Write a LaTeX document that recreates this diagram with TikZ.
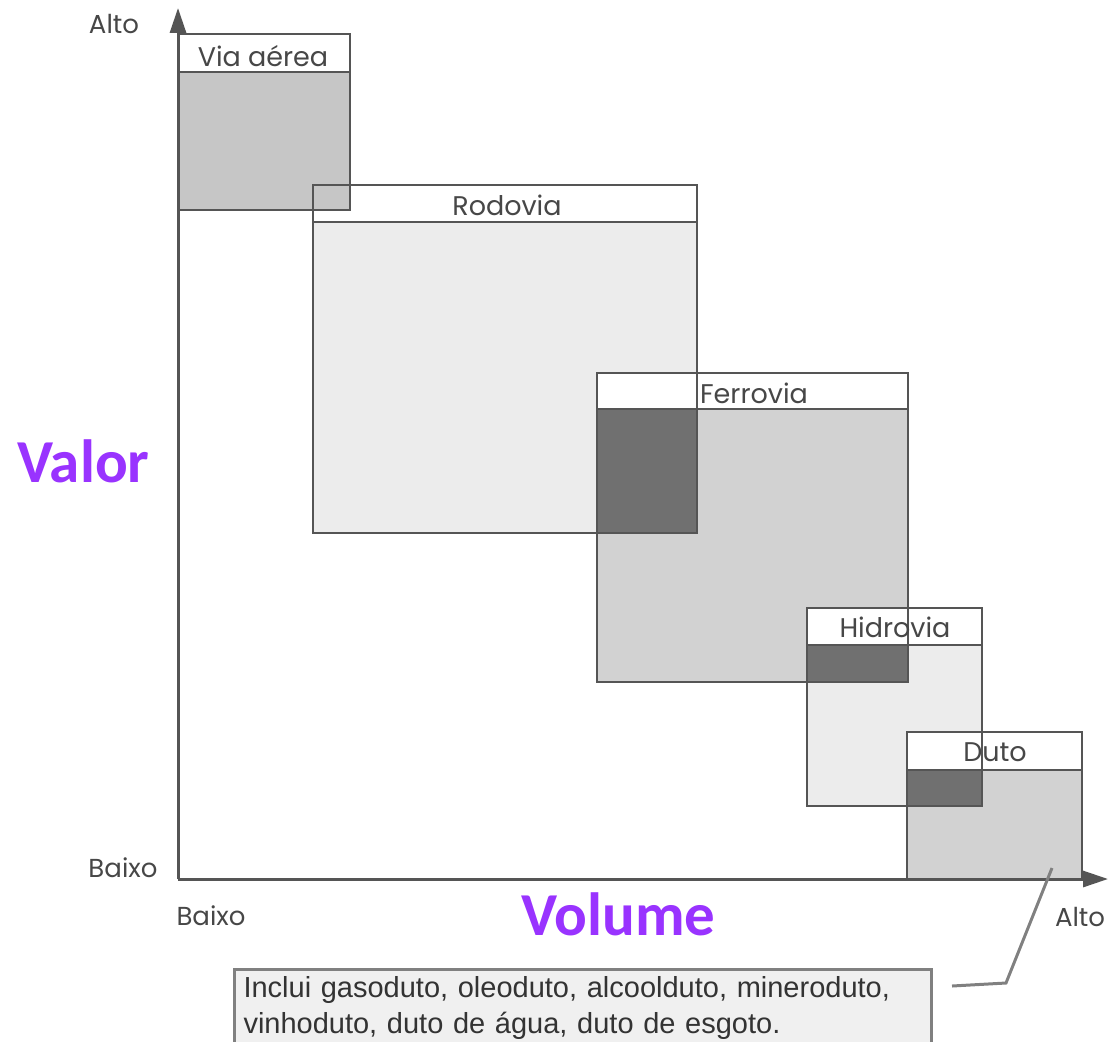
\documentclass[tikz,border=0pt]{standalone}
\usepackage{fontspec}
\setmainfont{Poppins}
\newfontfamily\notafont{Liberation Sans}
\newfontfamily\grandefont{Carlito}
\usepackage{tikz}
\usetikzlibrary{arrows.meta}
\usetikzlibrary{positioning}
\definecolor{linhacinza}{RGB}{85,85,85}
\definecolor{cinzaclaro}{RGB}{236,236,236}
\definecolor{cinzamedio}{RGB}{210,210,210}
\definecolor{cinzaaereo}{RGB}{198,198,198}
\definecolor{cinzaescuro}{RGB}{112,112,112}
\definecolor{notafundo}{RGB}{240,240,240}
\definecolor{notaborda}{RGB}{128,128,128}
\definecolor{roxo}{RGB}{153,51,255}

\begin{document}
\begin{tikzpicture}[x=1pt, y=-1pt,
	modo/.style={draw=linhacinza, line width=1.6pt},
	rotulo/.style={font=\fontsize{27}{30}\selectfont, text=black!72, inner sep=0pt},
	eixolbl/.style={font=\fontsize{26}{28}\selectfont, text=black!72, inner sep=0pt},
	grande/.style={font=\grandefont\bfseries\fontsize{61}{64}\selectfont, text=roxo, inner sep=0pt, anchor=base west}
	]
	\useasboundingbox (0,0) rectangle (1115,1041);
	
	% corpos dos modos
	\fill[cinzaaereo] (178,72) rectangle (350,210);
	\fill[cinzaclaro] (313,222) rectangle (697,533);
	\fill[white] (313,185) rectangle (697,222);
	\fill[cinzaaereo] (313,185) rectangle (350,210);
	\fill[cinzamedio] (597,409) rectangle (908,682);
	\fill[white] (597,373) rectangle (908,409);
	\fill[cinzaclaro] (807,645) rectangle (982,806);
	\fill[white] (807,608) rectangle (982,645);
	\fill[cinzamedio] (907,770) rectangle (1082,879);
	\fill[white] (907,732) rectangle (1082,770);
	
	% sobreposicoes
	\fill[cinzaescuro] (597,409) rectangle (697,533);
	\fill[cinzaescuro] (807,645) rectangle (908,682);
	\fill[cinzaescuro] (907,770) rectangle (982,806);
	
	% contornos
	\draw[modo] (178,34) rectangle (350,210) (178,72) -- (350,72);
	\draw[modo] (313,185) rectangle (697,533) (313,222) -- (697,222);
	\draw[modo] (597,373) rectangle (908,682) (597,409) -- (908,409);
	\draw[modo] (807,608) rectangle (982,806) (807,645) -- (982,645);
	\draw[modo] (907,732) rectangle (1082,879) (907,770) -- (1082,770);
	
	\node[rotulo] (aerea) at (263,56) {Via aérea};
	\node[rotulo] (rodovia) at (507,205) {Rodovia};
	\node[rotulo] (ferrovia) at (754,393) {Ferrovia};
	\node[rotulo] (hidrovia) at (895,627) {Hidrovia};
	\node[rotulo] (duto) at (995,752) {Duto};
	
	% eixos
	\coordinate (origem) at (178,879);
	\coordinate (topo) at (178,8);
	\coordinate (fim) at (1108,879);
	\draw[linhacinza, line width=3pt, -{Triangle[length=25pt,width=16pt]}] (origem) -- (topo);
	\draw[linhacinza, line width=3pt, -{Triangle[length=25pt,width=16pt]}] (origem) -- (fim);
	
	\node[eixolbl] (altoy) at (114,24) {Alto};
	\node[eixolbl] (baixoy) at (123,868) {Baixo};
	\node[eixolbl] (baixox) at (211,916) {Baixo};
	\node[eixolbl] (altox) at (1080,917) {Alto};
	
	\node[grande] (valor) at (17,482) {Valor};
	\node[grande] (volume) at (521,935) {Volume};
	
	% nota
	\node[draw=notaborda, line width=3pt, fill=notafundo, anchor=north west,
		text width=679pt, align=left, inner xsep=9pt, inner ysep=7pt,
		font=\notafont\fontsize{29}{36}\selectfont, text=black!80] (nota) at (233,968)
		{Inclui gasoduto, oleoduto, alcoolduto, mineroduto,\\vinhoduto, duto de água, duto de esgoto.\\[30pt]};
	\coordinate (notaponta) at (952,986);
	\coordinate (notadobra) at (1006,983);
	\coordinate (dutoponta) at (1052,868);
	\draw[notaborda, line width=3pt] (notaponta) -- (notadobra) -- (dutoponta);
\end{tikzpicture}
\end{document}
